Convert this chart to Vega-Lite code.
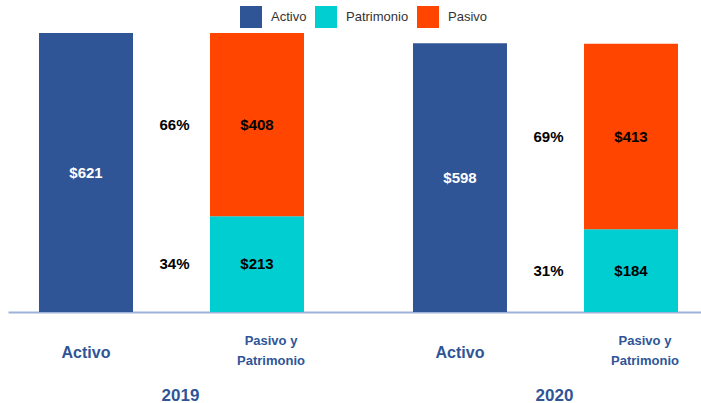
{
  "$schema": "https://vega.github.io/schema/vega-lite/v6.json",
  "width": 693,
  "height": 292,
  "autosize": {"type": "none"},
  "padding": {"left": 8, "top": 20, "right": 0, "bottom": 91},
  "config": {"view": {"stroke": null}, "font": "Liberation Sans"},
  "data": {
    "values": [
      {"year": "2019", "tipo": "Activo", "componente": "Activo", "orden": 1, "valor": 621, "pct": null},
      {"year": "2019", "tipo": "PyP", "componente": "Patrimonio", "orden": 1, "valor": 213, "pct": 0.34},
      {"year": "2019", "tipo": "PyP", "componente": "Pasivo", "orden": 2, "valor": 408, "pct": 0.66},
      {"year": "2020", "tipo": "Activo", "componente": "Activo", "orden": 1, "valor": 598, "pct": null},
      {"year": "2020", "tipo": "PyP", "componente": "Patrimonio", "orden": 1, "valor": 184, "pct": 0.31},
      {"year": "2020", "tipo": "PyP", "componente": "Pasivo", "orden": 2, "valor": 413, "pct": 0.69}
    ]
  },
  "transform": [
    {"stack": "valor", "groupby": ["year", "tipo"], "sort": [{"field": "orden", "order": "ascending"}], "as": ["v0", "v1"]},
    {"calculate": "(datum.v0 + datum.v1) / 2", "as": "mid"}
  ],
  "layer": [
    {
      "mark": {"type": "bar"},
      "encoding": {
        "x": {
          "field": "year", "type": "nominal",
          "scale": {"paddingInner": 0.2914, "paddingOuter": 0.0722, "align": 0.574},
          "axis": {
            "title": null, "ticks": false, "labelAngle": 0, "labelFontSize": 17,
            "labelFontWeight": "bold", "labelColor": "#2F5597", "labelPadding": 75,
            "labelOffset": 9, "domainColor": "#9EB1D8", "domainWidth": 2,
            "labelFont": "Liberation Sans"
          }
        },
        "xOffset": {
          "field": "tipo", "type": "nominal",
          "scale": {"domain": ["Activo", "PyP"], "paddingInner": 0.4503, "paddingOuter": 0}
        },
        "y": {"field": "v1", "type": "quantitative", "scale": {"domain": [0, 650]}, "axis": null},
        "y2": {"field": "v0"},
        "color": {
          "field": "componente", "type": "nominal",
          "scale": {"domain": ["Activo", "Patrimonio", "Pasivo"], "range": ["#2F5597", "#00CED1", "#FF4500"]},
          "legend": {
            "orient": "none", "legendX": 232, "legendY": -14, "direction": "horizontal",
            "title": null, "symbolType": "square", "symbolSize": 484, "labelFontSize": 13,
            "labelOffset": 9, "columnPadding": 8, "labelColor": "#333333",
            "labelFont": "Liberation Sans", "symbolStrokeWidth": 0
          }
        }
      }
    },
    {
      "mark": {"type": "text", "fontSize": 15, "fontWeight": "bold", "baseline": "middle"},
      "encoding": {
        "x": {"field": "year", "type": "nominal"},
        "xOffset": {"field": "tipo", "type": "nominal"},
        "y": {"field": "mid", "type": "quantitative"},
        "text": {"field": "valor", "type": "quantitative", "format": "$.0f"},
        "color": {"condition": {"test": "datum.componente == 'Activo'", "value": "white"}, "value": "black"}
      }
    },
    {
      "transform": [{"filter": "datum.tipo == 'PyP'"}],
      "mark": {"type": "text", "fontSize": 15, "fontWeight": "bold", "baseline": "middle", "dx": 3, "color": "black"},
      "encoding": {
        "x": {"field": "year", "type": "nominal"},
        "y": {"field": "mid", "type": "quantitative"},
        "text": {"field": "pct", "type": "quantitative", "format": ".0%"}
      }
    },
    {
      "transform": [{"filter": "datum.componente == 'Activo'"}],
      "mark": {"type": "text", "fontSize": 16, "fontWeight": "bold", "baseline": "middle", "color": "#2F5597"},
      "encoding": {
        "x": {"field": "year", "type": "nominal"},
        "xOffset": {"field": "tipo", "type": "nominal"},
        "y": {"datum": -91, "type": "quantitative"},
        "text": {"value": "Activo"}
      }
    },
    {
      "transform": [{"filter": "datum.componente == 'Pasivo'"}],
      "mark": {"type": "text", "fontSize": 13, "fontWeight": "bold", "baseline": "middle", "color": "#2F5597", "dx": 14, "lineHeight": 20},
      "encoding": {
        "x": {"field": "year", "type": "nominal"},
        "xOffset": {"field": "tipo", "type": "nominal"},
        "y": {"datum": -65, "type": "quantitative"},
        "text": {"value": ["Pasivo y", "Patrimonio"]}
      }
    }
  ]
}
